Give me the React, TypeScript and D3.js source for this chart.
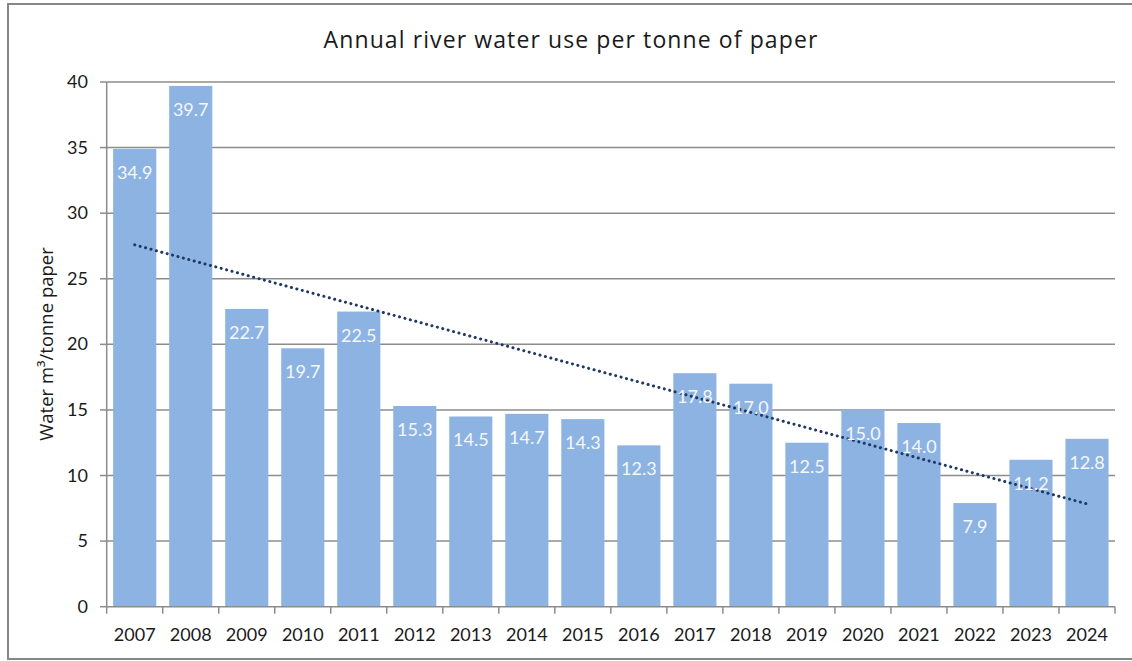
import React from "react";
import * as d3 from "d3";

const years: string[] = [
  "2007", "2008", "2009", "2010", "2011", "2012", "2013", "2014", "2015",
  "2016", "2017", "2018", "2019", "2020", "2021", "2022", "2023", "2024",
];
const waterUse: number[] = [
  34.9, 39.7, 22.7, 19.7, 22.5, 15.3, 14.5, 14.7, 14.3,
  12.3, 17.8, 17.0, 12.5, 15.0, 14.0, 7.9, 11.2, 12.8,
];
const yTicks: number[] = [0, 5, 10, 15, 20, 25, 30, 35, 40];

const W = 1132;
const H = 661;
const left = 106.7;
const right = 1115;
const top = 82;
const bottom = 606.7;
const FONT = "Lato, 'Open Sans', sans-serif";
const WIDE = "'Open Sans', Lato, sans-serif";
const GRID = "#8c8c8c";

export default function App() {
  const x = d3.scaleBand<string>().domain(years).range([left, right]).paddingInner(0.23).paddingOuter(0.115);
  const y = d3.scaleLinear().domain([0, 40]).range([bottom, top]);

  // least-squares linear trend over the series
  const idx = waterUse.map((_, i) => i);
  const mx = d3.mean(idx) as number;
  const my = d3.mean(waterUse) as number;
  const sxy = d3.sum(idx, (i) => (i - mx) * (waterUse[i] - my));
  const sxx = d3.sum(idx, (i) => (i - mx) * (i - mx));
  const slope = sxy / sxx;
  const trend = idx.map((i) => my + slope * (i - mx));
  const line = d3
    .line<number>()
    .x((_, i) => (x(years[i]) as number) + x.bandwidth() / 2)
    .y((v) => y(v));

  const step = (right - left) / years.length;
  const boundaries = d3.range(years.length + 1).map((i) => left + i * step);

  return (
    <svg width={W} height={H} style={{ position: "absolute", left: 0, top: 0, background: "#fff" }}>
      <rect x={8} y={4} width={W} height={655} fill="#fff" stroke="#878787" strokeWidth={2} />
      <text
        x={571}
        y={48}
        textAnchor="middle"
        fontFamily={WIDE}
        fontSize={23}
        letterSpacing={1.1}
        fill="#1a1a1a"
      >
        Annual river water use per tonne of paper
      </text>

      {yTicks.map((t) => (
        <g key={t}>
          {t > 0 && <line x1={left} x2={right} y1={y(t)} y2={y(t)} stroke={GRID} strokeWidth={1.5} />}
          <line x1={100} x2={left} y1={y(t)} y2={y(t)} stroke={GRID} strokeWidth={1.5} />
          <text x={88} y={y(t) + 6} textAnchor="end" fontFamily={FONT} fontSize={18} fill="#1a1a1a">
            {t}
          </text>
        </g>
      ))}

      <text
        transform={`translate(53,344) rotate(-90)`}
        textAnchor="middle"
        fontFamily={WIDE}
        fontSize={18.5}
        fill="#1a1a1a"
      >
        Water m³/tonne paper
      </text>

      {years.map((yr, i) => (
        <rect
          key={yr}
          x={x(yr)}
          y={y(waterUse[i])}
          width={x.bandwidth()}
          height={bottom - y(waterUse[i])}
          fill="#8db3e2"
        />
      ))}

      <line x1={left} x2={left} y1={top} y2={bottom} stroke={GRID} strokeWidth={1.5} />
      <line x1={left} x2={right} y1={bottom} y2={bottom} stroke={GRID} strokeWidth={1.5} />
      {boundaries.map((bx, i) => (
        <line key={i} x1={bx} x2={bx} y1={bottom} y2={bottom + 7} stroke={GRID} strokeWidth={1.5} />
      ))}

      {years.map((yr) => (
        <text
          key={yr}
          x={(x(yr) as number) + x.bandwidth() / 2}
          y={641}
          textAnchor="middle"
          fontFamily={FONT}
          fontSize={18}
          fill="#1a1a1a"
        >
          {yr}
        </text>
      ))}

      <path
        d={line(trend) as string}
        fill="none"
        stroke="#1f3864"
        strokeWidth={3}
        strokeDasharray="0.1 5.5"
        strokeLinecap="round"
      />

      {years.map((yr, i) => (
        <text
          key={yr}
          x={(x(yr) as number) + x.bandwidth() / 2}
          y={y(waterUse[i]) + 30}
          textAnchor="middle"
          fontFamily={FONT}
          fontSize={18}
          fill="#f4f7fb"
        >
          {waterUse[i].toFixed(1)}
        </text>
      ))}
    </svg>
  );
}
